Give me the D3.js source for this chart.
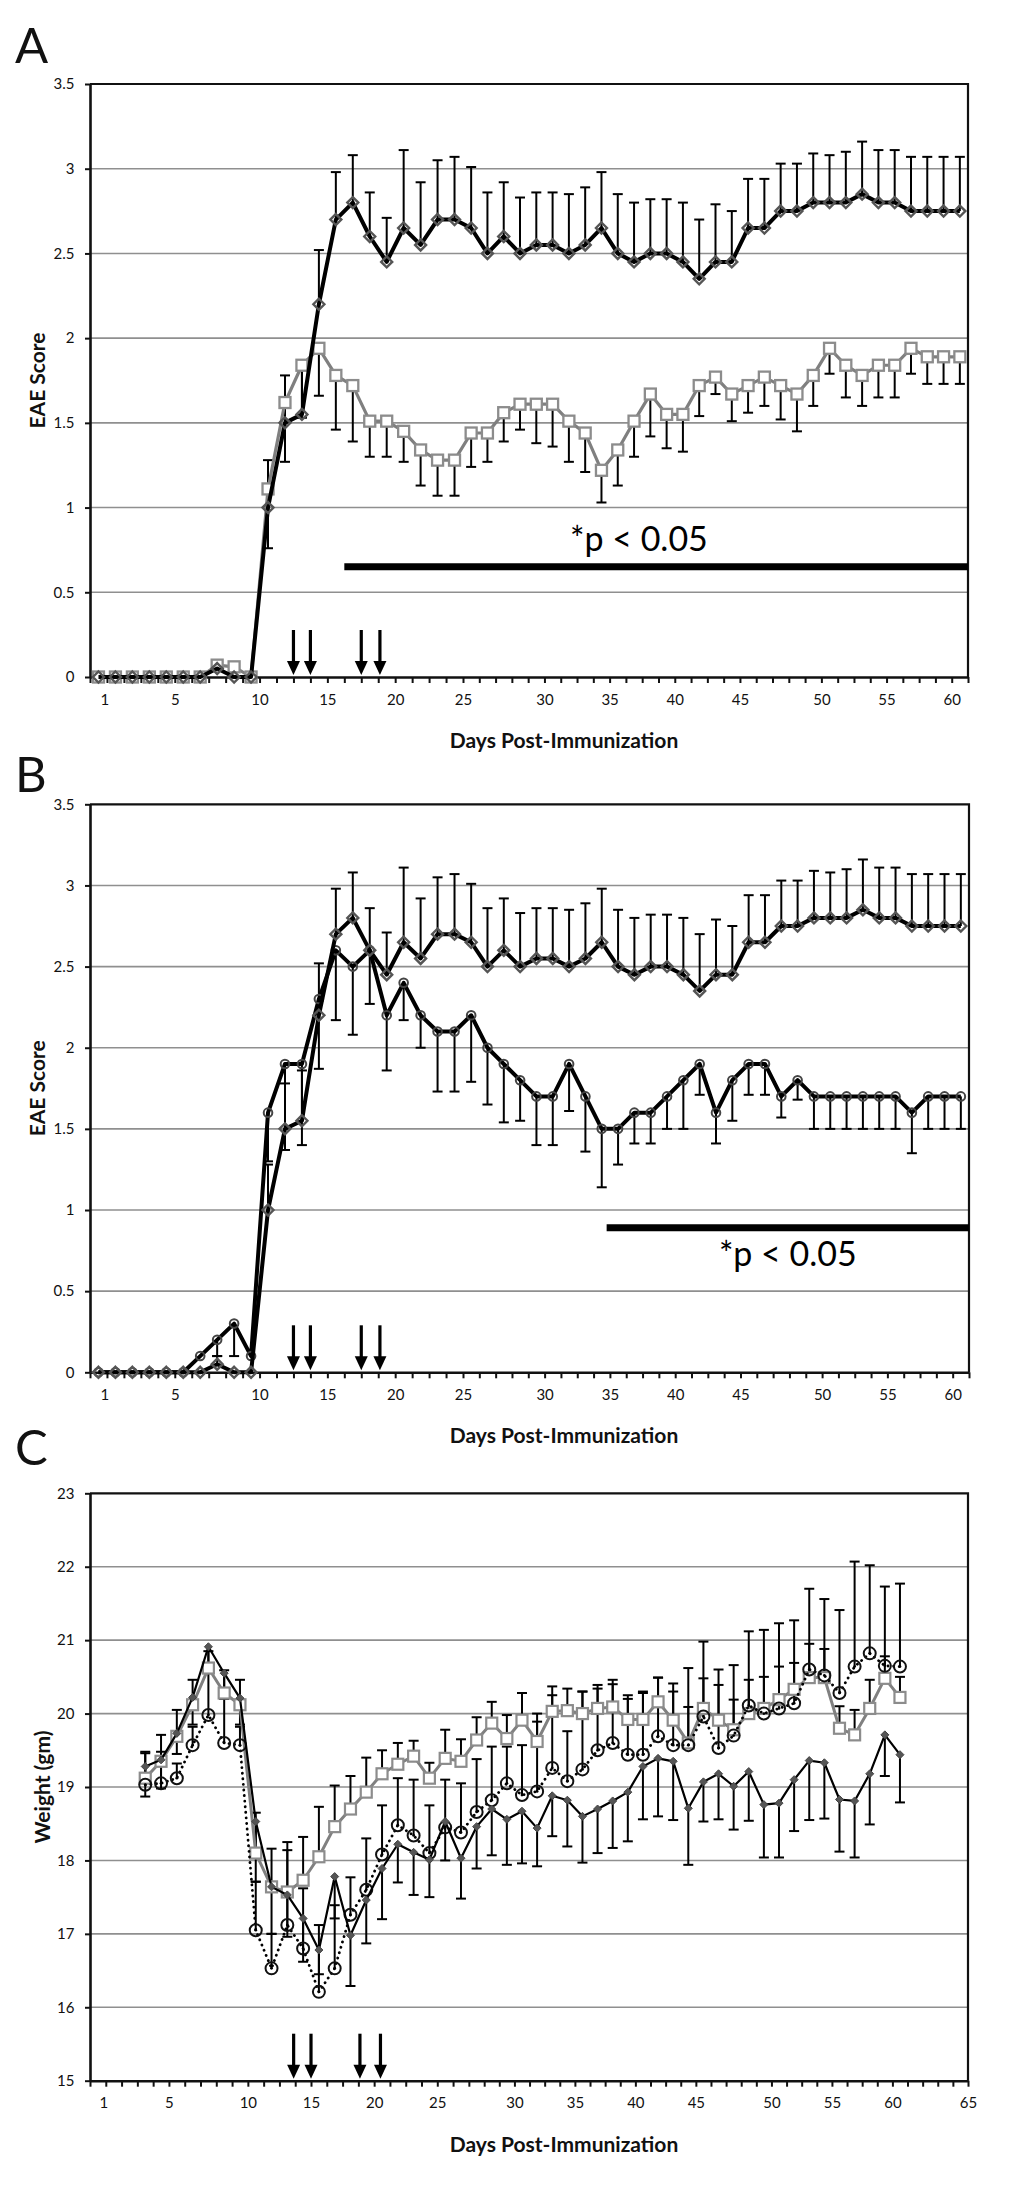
<!DOCTYPE html>
<html><head><meta charset="utf-8">
<script src="https://cdn.jsdelivr.net/npm/d3@7"></script>
<style>body{margin:0;background:#fff}svg{display:block}text{font-family:Lato,'Open Sans',sans-serif}</style>
</head><body><svg id="c" width="1026" height="2193"></svg>
<script>
// ---------------- DATA ----------------
// Panels A/B: 53 daily categories (index 0..52)
const xLabelsAB = ["1","5","10","15","20","25","30","35","40","45","50","55","60"];
const xLabelAtAB = [0.85,5,10,14,18,22,27,31,35,39,44,48,52];
const xLabelsC = ["1","5","10","15","20","25","30","35","40","45","50","55","60","65"];
const xLabelAtC = [0.85,5,10,14,18,22,27,31,35,39,44,48,52,57];
const yTicksEAE = [0,0.5,1,1.5,2,2.5,3,3.5];
const yTicksWeight = [15,16,17,18,19,20,21,22,23];
const arrowsAB = [12,13,16,17.1];
const arrowsC = [12.9,14,17.1,18.4];

// Black diamonds (control) - mean EAE score and SEM (upward bars)
const eaeBlack = [0,0,0,0,0,0,0,0.05,0,0,1.0,1.5,1.55,2.2,2.7,2.8,2.6,2.45,2.65,2.55,2.7,2.7,2.65,2.5,2.6,2.5,2.55,2.55,2.5,2.55,2.65,2.5,2.45,2.5,2.5,2.45,2.35,2.45,2.45,2.65,2.65,2.75,2.75,2.8,2.8,2.8,2.85,2.8,2.8,2.75,2.75,2.75,2.75];
const eaeBlackErr = [0,0,0,0,0,0,0,0.05,0,0,0.28,0.28,0.31,0.32,0.28,0.28,0.26,0.26,0.46,0.37,0.35,0.37,0.36,0.36,0.32,0.33,0.31,0.31,0.35,0.34,0.33,0.35,0.35,0.32,0.32,0.35,0.35,0.34,0.30,0.29,0.29,0.28,0.28,0.29,0.28,0.30,0.31,0.31,0.31,0.32,0.32,0.32,0.32];
// Grey squares (panel A) - downward bars
const eaeGrey = [0,0,0,0,0,0,0,0.07,0.06,0,1.11,1.62,1.84,1.94,1.78,1.72,1.51,1.51,1.45,1.34,1.28,1.28,1.44,1.44,1.56,1.61,1.61,1.61,1.51,1.44,1.22,1.34,1.51,1.67,1.55,1.55,1.72,1.77,1.67,1.72,1.77,1.72,1.67,1.78,1.94,1.84,1.78,1.84,1.84,1.94,1.89,1.89,1.89];
const eaeGreyErr = [0,0,0,0,0,0,0,0,0,0,0.35,0.35,0.31,0.28,0.32,0.33,0.21,0.21,0.18,0.21,0.21,0.21,0.20,0.17,0.17,0.15,0.23,0.25,0.24,0.23,0.19,0.21,0.21,0.25,0.20,0.22,0.18,0.10,0.16,0.16,0.17,0.20,0.22,0.18,0.15,0.19,0.18,0.19,0.19,0.15,0.16,0.16,0.16];
// Black circles (panel B) - downward bars
const eaeCircle = [0,0,0,0,0,0,0.1,0.2,0.3,0.1,1.6,1.9,1.9,2.3,2.6,2.5,2.6,2.2,2.4,2.2,2.1,2.1,2.2,2.0,1.9,1.8,1.7,1.7,1.9,1.7,1.5,1.5,1.6,1.6,1.7,1.8,1.9,1.6,1.8,1.9,1.9,1.7,1.8,1.7,1.7,1.7,1.7,1.7,1.7,1.6,1.7,1.7,1.7];
const eaeCircleErr = [0,0,0,0,0,0,0,0.1,0.2,0,0.3,0.53,0.5,0.43,0.43,0.42,0.33,0.34,0.23,0.2,0.37,0.37,0.41,0.35,0.36,0.25,0.3,0.3,0.29,0.34,0.36,0.22,0.19,0.19,0.2,0.3,0.19,0.19,0.25,0.19,0.19,0.13,0.12,0.2,0.2,0.2,0.2,0.2,0.2,0.25,0.2,0.2,0.2];

// Panel C: weights on categories 3..52
const weightCats = d3.range(3, 53);
const wBlack = [19.28,19.37,19.73,20.22,20.91,20.55,20.21,18.53,17.64,17.53,17.21,16.78,17.78,16.98,17.46,17.89,18.22,18.11,18.01,18.53,18.03,18.46,18.70,18.56,18.67,18.44,18.88,18.82,18.60,18.70,18.81,18.93,19.28,19.39,19.35,18.71,19.07,19.18,19.01,19.21,18.76,18.78,19.10,19.36,19.33,18.83,18.81,19.18,19.71,19.44];
const wBlackErr = [0.41,0.39,0.28,0.37,0.31,0.30,0.36,0.82,0.64,0.57,0.59,0.33,0.57,0.69,0.59,0.69,0.52,0.58,0.51,0.53,0.55,0.57,0.63,0.62,0.71,0.52,0.55,0.63,0.63,0.60,0.64,0.67,0.72,0.79,0.80,0.77,0.54,0.62,0.59,0.67,0.72,0.74,0.70,0.81,0.76,0.71,0.77,0.69,0.56,0.65];
const wGrey = [19.12,19.35,19.69,20.12,20.62,20.28,20.12,18.10,17.64,17.57,17.73,18.05,18.46,18.70,18.93,19.18,19.31,19.42,19.12,19.39,19.35,19.64,19.87,19.66,19.91,19.62,20.03,20.04,20.0,20.07,20.09,19.92,19.92,20.16,19.91,19.60,20.07,19.91,19.78,20.0,20.07,20.19,20.33,20.49,20.49,19.80,19.71,20.07,20.48,20.22];
const wGreyErr = [0.36,0.36,0.36,0.34,0.23,0.31,0.34,0.55,0.52,0.68,0.59,0.68,0.56,0.45,0.47,0.32,0.29,0.21,0.21,0.39,0.30,0.31,0.29,0.32,0.37,0.27,0.22,0.30,0.30,0.27,0.31,0.28,0.36,0.33,0.39,0.49,0.41,0.48,0.41,0.46,0.43,0.45,0.36,0.46,0.39,0.30,0.34,0.39,0.30,0.28];
const wDotted = [19.03,19.05,19.12,19.57,19.98,19.60,19.57,17.05,16.53,17.12,16.80,16.21,16.53,17.26,17.60,18.08,18.48,18.34,18.10,18.45,18.38,18.66,18.82,19.05,18.89,18.94,19.26,19.08,19.24,19.50,19.60,19.44,19.44,19.69,19.57,19.57,19.96,19.53,19.70,20.11,20.0,20.07,20.14,20.60,20.52,20.28,20.64,20.82,20.65,20.64];
const wDottedErr = [0.43,0.43,0.20,0.25,0.57,0.60,0.25,0.66,0.47,1.02,0.82,0.91,0.86,0.51,0.70,0.67,0.64,0.76,0.65,0.65,0.67,0.72,0.73,0.50,0.68,1.06,1.11,0.68,1.06,0.89,0.86,0.81,0.86,0.80,0.84,1.05,1.02,1.07,0.96,1.01,1.14,1.16,1.13,1.10,1.04,1.13,1.43,1.20,1.08,1.13];

// ---------------- DRAWING ----------------
const FONT = "Lato, 'Open Sans', sans-serif";
const svg = d3.select("#c");
const catsAB = d3.range(eaeBlack.length);

function panel(o) {
  const g = svg.append("g");
  const x = d3.scaleLinear().domain(o.xDom).range(o.xRng);
  const y = d3.scaleLinear().domain([o.yTicks[0], o.yTicks[o.yTicks.length-1]]).range([o.bottom, o.top]);
  g.append("g").selectAll("line").data(o.yTicks.slice(1, -1)).join("line")
    .attr("x1", o.xRng[0]).attr("x2", o.xRng[o.xRng.length-1])
    .attr("y1", d => y(d)).attr("y2", d => y(d))
    .attr("stroke", "#8f8f8f").attr("stroke-width", 1.6);
  const R = o.xRng[o.xRng.length-1];
  g.append("path").attr("d", `M${o.xRng[0]},${o.top}H${R}V${o.bottom}`)
    .attr("fill", "none").attr("stroke", "#111").attr("stroke-width", 2.2);
  const ya = g.append("g").attr("transform", `translate(${o.xRng[0]},0)`)
    .call(d3.axisLeft(y).tickValues(o.yTicks).tickFormat(d3.format("~g")).tickSize(5).tickSizeOuter(0).tickPadding(10.5));
  ya.select(".domain").attr("stroke", "#111").attr("stroke-width", 2.6);
  ya.selectAll(".tick line").attr("stroke", "#111").attr("stroke-width", 2);
  ya.selectAll("text").attr("font-size", 15).attr("font-family", FONT).attr("fill", "#111");
  const xa = g.append("g").attr("transform", `translate(0,${o.bottom})`)
    .call(d3.axisBottom(x).tickValues(d3.range(0, o.xDom[o.xDom.length-1] + 1)).tickFormat("").tickSize(6).tickSizeOuter(0));
  xa.select(".domain").attr("stroke", "#111").attr("stroke-width", 2.6);
  xa.selectAll(".tick line").attr("stroke", "#111").attr("stroke-width", 2);
  const xl = g.append("g").attr("transform", `translate(0,${o.bottom})`)
    .call(d3.axisBottom(x).tickValues(o.xLabelAt).tickFormat((d, i) => o.xLabels[i]).tickSize(0).tickPadding(17));
  xl.select(".domain").remove();
  xl.selectAll("text").attr("font-size", 15).attr("font-family", FONT).attr("fill", "#111");
  g.append("text").attr("x", 564).attr("y", o.bottom + 71).attr("text-anchor", "middle")
    .attr("font-size", 21).attr("font-weight", 700).attr("fill", "#111").text("Days Post-Immunization");
  g.append("text").attr("transform", `translate(${o.ylabX},${(o.top + o.bottom) / 2}) rotate(-90)`)
    .attr("text-anchor", "middle").attr("dominant-baseline", "central")
    .attr("font-size", 21).attr("font-weight", 700).attr("fill", "#111").text(o.ylabel);
  g.append("text").attr("x", 15).attr("y", o.letterY).attr("font-size", 49).attr("fill", "#111").text(o.letter);
  const ag = g.append("g");
  o.arrows.forEach(a => {
    const ax = x(a), tip = o.bottom - 2;
    ag.append("line").attr("x1", ax).attr("x2", ax).attr("y1", tip - 45).attr("y2", tip - 10)
      .attr("stroke", "#000").attr("stroke-width", 3.2);
    ag.append("path").attr("d", `M${ax - 6.5},${tip - 14}L${ax + 6.5},${tip - 14}L${ax},${tip}Z`).attr("fill", "#000");
  });
  return {g, x, y};
}

function errBars(p, cats, vals, errs, dir) {
  const gg = p.g.append("g");
  cats.forEach((c, i) => {
    if (!errs[i]) return;
    const cx = p.x(c + 0.5), y0 = p.y(vals[i]), y1 = p.y(vals[i] + dir * errs[i]);
    gg.append("line").attr("x1", cx).attr("x2", cx).attr("y1", y0).attr("y2", y1).attr("stroke", "#000").attr("stroke-width", 2);
    gg.append("line").attr("x1", cx - 5).attr("x2", cx + 5).attr("y1", y1).attr("y2", y1).attr("stroke", "#000").attr("stroke-width", 2);
  });
}

function lineSeries(p, cats, vals, st) {
  const line = d3.line().x((d, i) => p.x(cats[i] + 0.5)).y(d => p.y(d));
  const path = p.g.append("path").attr("d", line(vals)).attr("fill", "none")
    .attr("stroke", st.color).attr("stroke-width", st.width).attr("stroke-linejoin", "round");
  if (st.dash) path.attr("stroke-dasharray", st.dash).attr("stroke-linecap", "round");
  const mg = p.g.append("g");
  vals.forEach((v, i) => {
    const cx = p.x(cats[i] + 0.5), cy = p.y(v);
    if (st.marker === "diamond") {
      const r = st.r;
      mg.append("path").attr("d", `M${cx},${cy - r}L${cx + r},${cy}L${cx},${cy + r}L${cx - r},${cy}Z`)
        .attr("fill", st.mfill).attr("stroke", st.mstroke).attr("stroke-width", st.msw);
    } else if (st.marker === "square") {
      mg.append("rect").attr("x", cx - st.r).attr("y", cy - st.r).attr("width", 2 * st.r).attr("height", 2 * st.r)
        .attr("fill", st.mfill).attr("stroke", st.mstroke).attr("stroke-width", st.msw);
    } else if (st.marker === "circle") {
      mg.append("circle").attr("cx", cx).attr("cy", cy).attr("r", st.r)
        .attr("fill", st.mfill).attr("stroke", st.mstroke).attr("stroke-width", st.msw);
      if (st.dot) mg.append("circle").attr("cx", cx).attr("cy", cy).attr("r", 1.4).attr("fill", "#000");
    }
  });
}

const blackDiamondStyle = {color: "#000", width: 4, marker: "diamond", r: 5.5, mfill: "none", mstroke: "#555", msw: 2.4};

// Panel A
const pA = panel({xDom: [0, 22, 53], xRng: [90, 463, 968], yTicks: yTicksEAE, top: 84, bottom: 677,
  xLabels: xLabelsAB, xLabelAt: xLabelAtAB, ylabel: "EAE Score", ylabX: 36, letter: "A", letterY: 63, arrows: arrowsAB});
pA.g.append("line").attr("x1", pA.x(15)).attr("x2", pA.x(53)).attr("y1", pA.y(0.65)).attr("y2", pA.y(0.65))
  .attr("stroke", "#000").attr("stroke-width", 7);
pA.g.append("text").attr("x", pA.x(32.8)).attr("y", pA.y(0.746)).attr("text-anchor", "middle")
  .attr("font-size", 34).attr("fill", "#000").text("*p < 0.05");
errBars(pA, catsAB, eaeGrey, eaeGreyErr, -1);
errBars(pA, catsAB, eaeBlack, eaeBlackErr, 1);
lineSeries(pA, catsAB, eaeGrey, {color: "#7f7f7f", width: 3.2, marker: "square", r: 5.5, mfill: "#fff", mstroke: "#8c8c8c", msw: 2.3});
lineSeries(pA, catsAB, eaeBlack, blackDiamondStyle);

// Panel B
const pB = panel({xDom: [0, 22, 53], xRng: [90, 463, 969], yTicks: yTicksEAE, top: 804.3, bottom: 1372.3,
  xLabels: xLabelsAB, xLabelAt: xLabelAtAB, ylabel: "EAE Score", ylabX: 36, letter: "B", letterY: 792, arrows: arrowsAB});
pB.g.append("line").attr("x1", pB.x(30.8)).attr("x2", pB.x(53)).attr("y1", pB.y(0.89)).attr("y2", pB.y(0.89))
  .attr("stroke", "#000").attr("stroke-width", 7);
pB.g.append("text").attr("x", pB.x(41.9)).attr("y", pB.y(0.657)).attr("text-anchor", "middle")
  .attr("font-size", 34).attr("fill", "#000").text("*p < 0.05");
errBars(pB, catsAB, eaeCircle, eaeCircleErr, -1);
errBars(pB, catsAB, eaeBlack, eaeBlackErr, 1);
lineSeries(pB, catsAB, eaeCircle, {color: "#000", width: 4, marker: "circle", r: 4.3, mfill: "none", mstroke: "#444", msw: 2});
lineSeries(pB, catsAB, eaeBlack, blackDiamondStyle);

// Panel C
const pC = panel({xDom: [0, 24.3, 57], xRng: [90, 473.6, 968], yTicks: yTicksWeight, top: 1493.3, bottom: 2080.7,
  xLabels: xLabelsC, xLabelAt: xLabelAtC, ylabel: "Weight (gm)", ylabX: 41, letter: "C", letterY: 1465, arrows: arrowsC});
errBars(pC, weightCats, wBlack, wBlackErr, -1);
errBars(pC, weightCats, wGrey, wGreyErr, 1);
errBars(pC, weightCats, wDotted, wDottedErr, 1);
lineSeries(pC, weightCats, wGrey, {color: "#808080", width: 3, marker: "square", r: 5.5, mfill: "#fff", mstroke: "#8c8c8c", msw: 2.2});
lineSeries(pC, weightCats, wDotted, {color: "#000", width: 2.8, dash: "0.1,5.5", marker: "circle", r: 6, mfill: "none", mstroke: "#111", msw: 2, dot: true});
lineSeries(pC, weightCats, wBlack, {color: "#000", width: 2.2, marker: "diamond", r: 4, mfill: "#555", mstroke: "#444", msw: 1});
</script></body></html>
